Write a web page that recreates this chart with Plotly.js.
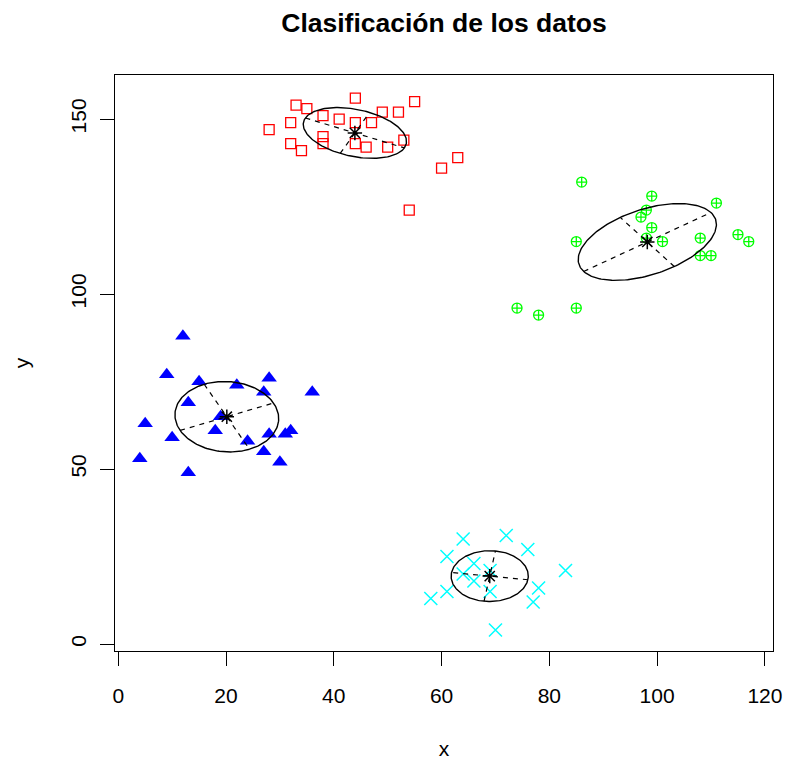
<!DOCTYPE html>
<html>
<head>
<meta charset="utf-8">
<script src="https://cdn.plot.ly/plotly-3.0.1.min.js"></script>
<style>html,body{margin:0;padding:0;background:#fff;}#chart{width:788px;height:760px;}</style>
</head>
<body>
<div id="chart"></div>
<script>
// Cluster 1 (red squares)
var rojoX = [44, 55, 33, 35, 38, 41, 49, 52, 44, 47, 32, 28, 38, 38, 32, 34, 44, 46, 50, 53, 63, 60, 54];
var rojoY = [156, 155, 154, 153, 151, 150, 152, 152, 149, 149, 149, 147, 145, 143, 143, 141, 143, 142, 142, 144, 139, 136, 124];
// Cluster 2 (green circle-plus)
var verdeX = [86, 99, 111, 98, 97, 99, 98, 101, 85, 108, 115, 117, 108, 110, 74, 78, 85];
var verdeY = [132, 128, 126, 124, 122, 119, 116, 115, 115, 116, 117, 115, 111, 111, 96, 94, 96];
// Cluster 3 (blue triangles)
var azulX = [12, 9, 15, 22, 28, 27, 36, 13, 5, 19, 18, 10, 24, 28, 31, 32, 27, 30, 4, 13];
var azulY = [88, 77, 75, 74, 76, 72, 72, 69, 63, 65, 61, 59, 58, 60, 60, 61, 55, 52, 53, 49];
// Cluster 4 (cyan crosses)
var cianX = [64, 72, 76, 61, 66, 69, 64, 66, 83, 78, 61, 69, 58, 77, 70];
var cianY = [30, 31, 27, 25, 23, 21, 20, 18, 21, 16, 15, 15, 13, 12, 4];

var xTicks = [0, 20, 40, 60, 80, 100, 120];
var yTicks = [0, 50, 100, 150];

var titulo = 'Clasificación de los datos';
var FONT = 'Liberation Sans, Arial, Helvetica, sans-serif';

function stats(xs, ys) {
  var n = xs.length, mx = 0, my = 0;
  for (var i = 0; i < n; i++) { mx += xs[i]; my += ys[i]; }
  mx /= n; my /= n;
  var sxx = 0, syy = 0, sxy = 0;
  for (var j = 0; j < n; j++) {
    var dx = xs[j] - mx, dy = ys[j] - my;
    sxx += dx * dx; syy += dy * dy; sxy += dx * dy;
  }
  sxx /= (n - 1); syy /= (n - 1); sxy /= (n - 1);
  var tr = sxx + syy, det = sxx * syy - sxy * sxy;
  var disc = Math.sqrt(Math.max(tr * tr / 4 - det, 0));
  var l1 = tr / 2 + disc, l2 = tr / 2 - disc;
  var v1;
  if (Math.abs(sxy) > 1e-12) { v1 = [l1 - syy, sxy]; } else { v1 = sxx >= syy ? [1, 0] : [0, 1]; }
  var nv = Math.sqrt(v1[0] * v1[0] + v1[1] * v1[1]);
  v1 = [v1[0] / nv, v1[1] / nv];
  var v2 = [-v1[1], v1[0]];
  return {mx: mx, my: my, a: Math.sqrt(l1), b: Math.sqrt(Math.max(l2, 0)), v1: v1, v2: v2};
}

var traces = [];
var groups = [
  {x: rojoX, y: rojoY, marker: {symbol: 'square-open', size: 10, color: '#FF0000', line: {width: 1.3, color: '#FF0000'}}},
  {x: verdeX, y: verdeY, marker: {symbol: 'circle-cross-open', size: 10, color: '#00FF00', line: {width: 1.3, color: '#00FF00'}}},
  {x: azulX, y: azulY, marker: {symbol: 'triangle-up', size: 13.5, color: '#0000FF', line: {width: 0}}},
  {x: cianX, y: cianY, marker: {symbol: 'x-thin-open', size: 13, color: '#00FFFF', line: {width: 1.5, color: '#00FFFF'}}}
];
groups.forEach(function (g) {
  traces.push({type: 'scatter', mode: 'markers', x: g.x, y: g.y, marker: g.marker, hoverinfo: 'x+y'});
});
groups.forEach(function (g) {
  var s = stats(g.x, g.y);
  var ex = [], ey = [];
  for (var k = 0; k <= 200; k++) {
    var t = 2 * Math.PI * k / 200;
    var c = Math.cos(t), sn = Math.sin(t);
    ex.push(s.mx + s.a * c * s.v1[0] + s.b * sn * s.v2[0]);
    ey.push(s.my + s.a * c * s.v1[1] + s.b * sn * s.v2[1]);
  }
  traces.push({type: 'scatter', mode: 'lines', x: ex, y: ey, line: {color: '#000', width: 1.4}, hoverinfo: 'skip'});
  traces.push({type: 'scatter', mode: 'lines',
    x: [s.mx - s.a * s.v1[0], s.mx + s.a * s.v1[0], null, s.mx - s.b * s.v2[0], s.mx + s.b * s.v2[0]],
    y: [s.my - s.a * s.v1[1], s.my + s.a * s.v1[1], null, s.my - s.b * s.v2[1], s.my + s.b * s.v2[1]],
    line: {color: '#000', width: 1.2, dash: '5px,5px'}, hoverinfo: 'skip'});
  traces.push({type: 'scatter', mode: 'markers', x: [s.mx], y: [s.my],
    marker: {symbol: 'asterisk-open', size: 12, color: '#000', line: {width: 1.5, color: '#000'}}, hoverinfo: 'x+y'});
});

var layout = {
  width: 788, height: 760,
  margin: {l: 115, r: 15, t: 75, b: 109, pad: 0},
  paper_bgcolor: '#fff', plot_bgcolor: '#fff',
  showlegend: false,
  font: {family: FONT, size: 21, color: '#000'},
  title: {text: titulo, font: {family: FONT, size: 26.5, color: '#000', weight: 'bold'},
    x: 0.5, xref: 'paper', xanchor: 'center', y: 1 - 23 / 760, yref: 'container', yanchor: 'middle'},
  xaxis: {
    range: [-0.6, 121.5], tickmode: 'array', tickvals: xTicks, ticktext: xTicks.map(String),
    ticks: 'outside', ticklen: 14, tickwidth: 1, tickcolor: '#000',
    showline: true, mirror: true, linecolor: '#000', linewidth: 1,
    showgrid: false, zeroline: false, ticklabelstandoff: 12,
    tickfont: {family: FONT, size: 21, color: '#000'},
    title: {text: 'x', font: {family: FONT, size: 21, color: '#000'}, standoff: 36}
  },
  yaxis: {
    range: [-2.0, 162.6], tickmode: 'array', tickvals: yTicks, ticktext: yTicks.map(String),
    ticks: 'outside', ticklen: 14, tickwidth: 1, tickcolor: '#000', tickangle: -90,
    showline: true, mirror: true, linecolor: '#000', linewidth: 1,
    showgrid: false, zeroline: false, ticklabelstandoff: 6,
    tickfont: {family: FONT, size: 21, color: '#000'},
    title: {text: 'y', font: {family: FONT, size: 21, color: '#000'}, standoff: 31}
  }
};

Plotly.newPlot('chart', traces, layout, {displayModeBar: false, staticPlot: true});
</script>
</body>
</html>
